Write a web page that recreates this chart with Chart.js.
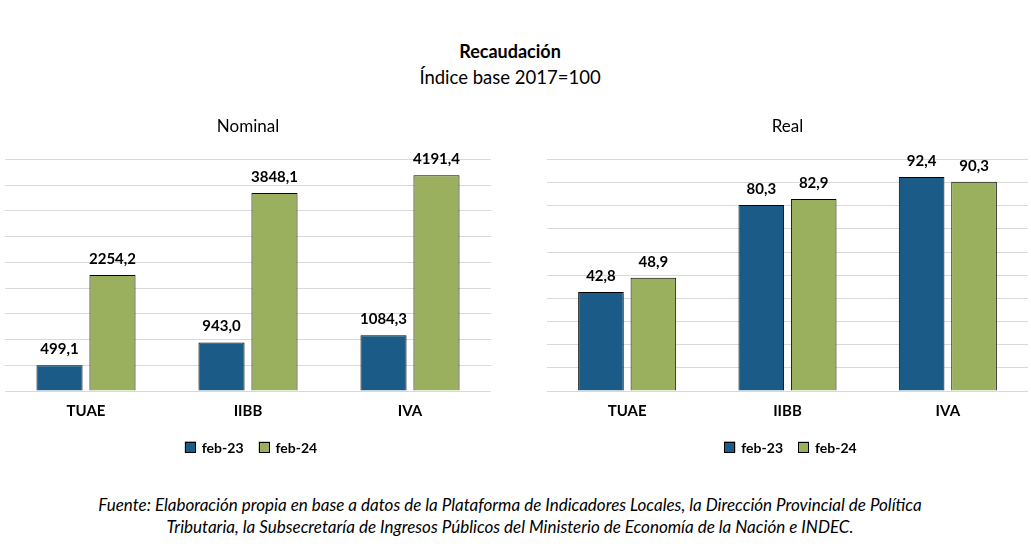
<!DOCTYPE html>
<html><head><meta charset="utf-8">
<script src="https://cdn.jsdelivr.net/npm/chart.js@4/dist/chart.umd.min.js"></script>
<style>
html,body{margin:0;padding:0;background:#fff;width:1031px;height:558px;overflow:hidden;font-family:Lato,"Open Sans",sans-serif;}
.t{position:absolute;left:0;width:1020px;text-align:center;color:#000;white-space:nowrap;}
#c1{position:absolute;left:0;top:100px;}
#c2{position:absolute;left:544px;top:100px;}
</style></head><body>
<div class="t" style="top:40px;font-size:18px;font-weight:bold;">Recaudación</div>
<div class="t" style="top:66px;font-size:18.5px;">Índice base 2017=100</div>
<div class="t" style="top:494px;font-size:17px;font-style:italic;line-height:22px;">Fuente: Elaboración propia en base a datos de la Plataforma de Indicadores Locales, la Dirección Provincial de Política<br>Tributaria, la Subsecretaría de Ingresos Públicos del Ministerio de Economía de la Nación e INDEC.</div>
<canvas id="c1" width="496" height="370"></canvas>
<canvas id="c2" width="487" height="370"></canvas>
<script>
const categories = ["TUAE", "IIBB", "IVA"];
const seriesNames = ["feb-23", "feb-24"];
const nominalFeb23 = [499.1, 943.0, 1084.3];
const nominalFeb24 = [2254.2, 3848.1, 4191.4];
const realFeb23 = [42.8, 80.3, 92.4];
const realFeb24 = [48.9, 82.9, 90.3];
const nominalMax = 4500, nominalStep = 500;
const realMax = 100, realStep = 10;

const BLUE = "#1A5C87", GREEN = "#9BB05E";
const FONT = "Lato, 'Open Sans', sans-serif";

const valueLabels = {
  id: "valueLabels",
  afterDatasetsDraw(chart) {
    const ctx = chart.ctx;
    ctx.save();
    ctx.font = "bold 15px " + FONT;
    ctx.fillStyle = "#000";
    ctx.textAlign = "center";
    ctx.textBaseline = "middle";
    chart.data.datasets.forEach((ds, i) => {
      chart.getDatasetMeta(i).data.forEach((bar, j) => {
        const txt = ds.data[j].toFixed(1).replace(".", ",");
        ctx.fillText(txt, bar.x, bar.y - 16);
      });
    });
    ctx.restore();
  }
};

const bottomLegend = {
  id: "bottomLegend",
  afterDraw(chart) {
    const ctx = chart.ctx, a = chart.chartArea;
    ctx.save();
    ctx.font = "bold 14px " + FONT;
    ctx.textBaseline = "middle";
    ctx.textAlign = "left";
    const box = 11, gapText = 6, gapItem = 15;
    const ds = chart.data.datasets;
    const widths = ds.map(d => box + gapText + ctx.measureText(d.label).width);
    const total = widths.reduce((s, w) => s + w, 0) + gapItem * (ds.length - 1);
    let x = (a.left + a.right) / 2 + 3 - total / 2;
    const y = a.bottom + 56;
    ds.forEach((d, i) => {
      ctx.fillStyle = d.backgroundColor;
      ctx.fillRect(x, y - box / 2, box, box);
      ctx.strokeStyle = "#000";
      ctx.lineWidth = 1;
      ctx.strokeRect(Math.round(x) + 0.5, Math.round(y - box / 2) + 0.5, box - 1, box - 1);
      ctx.fillStyle = "#000";
      ctx.fillText(d.label, x + box + gapText, y + 1);
      x += widths[i] + gapItem;
    });
    ctx.restore();
  }
};

function makeChart(id, subtitle, d1, d2, max, step, padL, padR) {
  return new Chart(document.getElementById(id), {
    type: "bar",
    data: {
      labels: categories,
      datasets: [
        {label: seriesNames[0], data: d1, backgroundColor: BLUE, borderColor: "#000", borderWidth: 1, borderSkipped: "bottom", categoryPercentage: 0.654, barPercentage: 0.87},
        {label: seriesNames[1], data: d2, backgroundColor: GREEN, borderColor: "#000", borderWidth: 1, borderSkipped: "bottom", categoryPercentage: 0.654, barPercentage: 0.87}
      ]
    },
    options: {
      responsive: false,
      animation: false,
      layout: {padding: {left: padL, right: padR, top: 0, bottom: 39}},
      plugins: {
        title: {display: true, text: subtitle, color: "#000", font: {family: FONT, size: 17, weight: "normal"}, padding: {top: 16, bottom: 23}},
        legend: {display: false},
        tooltip: {enabled: false}
      },
      scales: {
        x: {grid: {display: false, drawTicks: false}, border: {display: false},
            ticks: {color: "#000", padding: 11, font: {family: FONT, size: 15, weight: "bold"}}},
        y: {min: 0, max: max, ticks: {display: false, stepSize: step}, border: {display: false},
            grid: {color: "#D9D9D9", lineWidth: 1, drawTicks: false}}
      }
    },
    plugins: [valueLabels, bottomLegend]
  });
}
makeChart("c1", "Nominal", nominalFeb23, nominalFeb24, nominalMax, nominalStep, 5, 5);
makeChart("c2", "Real", realFeb23, realFeb24, realMax, realStep, 3, 3);
</script>
</body></html>
